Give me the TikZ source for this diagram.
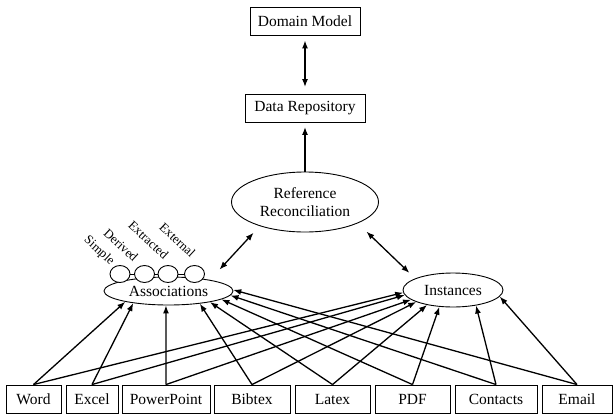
\documentclass[tikz,border=0pt]{standalone}
\usepackage{fontspec}
\setmainfont{Liberation Serif}
\usetikzlibrary{arrows.meta,shapes.geometric}

\begin{document}
\begin{tikzpicture}[x=1pt,y=-1pt,font=\fontsize{15.5}{18}\selectfont,
    box/.style={draw,line width=0.9pt,inner sep=0pt,minimum height=28pt},
    oval/.style={draw,ellipse,line width=0.9pt,inner sep=0pt,align=center},
    ring/.style={draw,ellipse,line width=0.9pt,fill=white,inner sep=0pt,
                 minimum width=20pt,minimum height=17pt},
    tag/.style={font=\fontsize{12.8}{14}\selectfont,rotate=-43,inner sep=0pt},
    flow/.style={-{Latex[length=8pt,width=6pt]},line width=1.3pt},
    both/.style={{Latex[length=8pt,width=6pt]}-{Latex[length=8pt,width=6pt]},line width=1.3pt}]
  \useasboundingbox (0,0) rectangle (613,418);

  % top chain
  \node[box,minimum width=110pt] (dom)  at (305,21)    {Domain Model};
  \node[box,minimum width=120pt] (repo) at (305,108.5) {Data Repository};
  \node[oval,minimum width=147pt,minimum height=60pt] (recon) at (305,202)
       {Reference\\Reconciliation};
  \draw[both,shorten <=5pt,shorten >=7pt] (dom.south) -- (repo.north);
  \draw[flow,shorten >=4pt] (recon.north) -- (repo.south);

  % middle
  \node[oval,minimum width=129pt,minimum height=28pt] (assoc) at (168.5,291) {Associations};
  \node[oval,minimum width=100pt,minimum height=34pt] (inst)  at (453,290)   {Instances};
  \node[ring] (c1) at (120,274)   {};
  \node[ring] (c2) at (144.5,274) {};
  \node[ring] (c3) at (168,274)   {};
  \node[ring] (c4) at (194.5,274) {};
  \draw[line width=0.9pt] (c1.east) -- (c2.west) (c2.east) -- (c3.west) (c3.east) -- (c4.west);
  \node[tag] (simple) at (99,251)    {Simple};
  \node[tag] (derive) at (121,245)   {Derived};
  \node[tag] (extrac) at (148.5,240) {Extracted};
  \node[tag] (extern) at (177.5,240) {External};
  \draw[both,shorten <=9pt,shorten >=14pt] (recon.208) -- (assoc.15.6);
  \draw[both,shorten <=12pt,shorten >=8pt] (recon.338.4) -- (inst.163.1);

  % sources
  \node[box,minimum width=55pt] (word) at (33.5,399)  {Word};
  \node[box,minimum width=52pt] (xls)  at (92,399)    {Excel};
  \node[box,minimum width=88pt] (ppt)  at (166,399)   {PowerPoint};
  \node[box,minimum width=76pt] (bib)  at (252,399)   {Bibtex};
  \node[box,minimum width=75pt] (tex)  at (332.5,399) {Latex};
  \node[box,minimum width=75pt] (pdf)  at (412.5,399) {PDF};
  \node[box,minimum width=82pt] (cont) at (496,399)   {Contacts};
  \node[box,minimum width=70pt] (mail) at (577,399)   {Email};
  \foreach \s/\a/\i in {word/194.5/183,xls/199.7/186,ppt/260/193,bib/338/198,
                        tex/345/210,pdf/351/231,cont/356.8/326,mail/1/352}
  {
    \draw[flow] (\s.north) -- (assoc.\a);
    \draw[flow] (\s.north) -- (inst.\i);
  }
\end{tikzpicture}
\end{document}
